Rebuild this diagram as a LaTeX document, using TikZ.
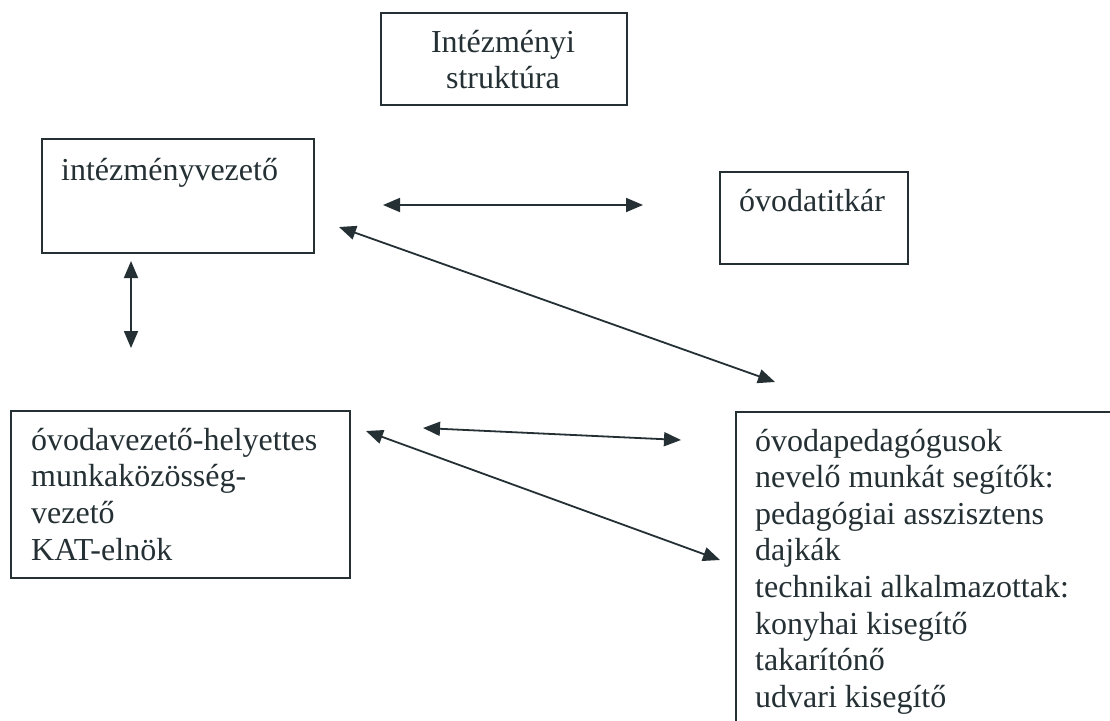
\documentclass[tikz,border=0pt]{standalone}
\usepackage{fontspec}
\setmainfont{Liberation Serif}
\usetikzlibrary{arrows.meta}
\definecolor{ink}{RGB}{36,48,52}
\begin{document}
\begin{tikzpicture}[x=1pt,y=-1pt,
  boxnode/.style={draw=ink,line width=1.8pt,inner sep=0pt,anchor=north west},
  txt/.style={text=ink,inner sep=0pt,anchor=base west,font=\fontsize{32}{36.8}\selectfont},
  link/.style={draw=ink,line width=1.8pt,{Triangle[length=17pt,width=14pt]}-{Triangle[length=17pt,width=14pt]}}]
\useasboundingbox (0,0) rectangle (1110,720);
\clip (0,0) rectangle (1110,720);
\fill[white] (0,0) rectangle (1110,720);
% boxes
\node[boxnode,minimum width=246pt,minimum height=92pt] (intz) at (380,12) {};
\node[boxnode,minimum width=272pt,minimum height=114pt] (vez) at (41,138) {};
\node[boxnode,minimum width=188pt,minimum height=92pt] (tit) at (719,171) {};
\node[boxnode,minimum width=339pt,minimum height=167pt] (hely) at (10,410) {};
\node[boxnode,minimum width=420pt,minimum height=360pt] (ped) at (735,411) {};
% texts
\node[txt,anchor=base] (intz1) at (503,52) {Intézményi};
\node[txt,anchor=base] (intz2) at (503,88) {struktúra};
\node[txt] (vezt) at (61,180) {intézményvezető};
\node[txt] (titt) at (739,211) {óvodatitkár};
\foreach \t [count=\i] in {óvodavezető-helyettes,munkaközösség-,vezető,KAT-elnök}
  \node[txt] (h\i) at (31,{450+36.7*(\i-1)}) {\t};
\foreach \t [count=\i] in {óvodapedagógusok,nevelő munkát segítők:,pedagógiai asszisztens,dajkák,technikai alkalmazottak:,konyhai kisegítő,takarítónő,udvari kisegítő}
  \node[txt] (p\i) at (755,{451+36.6*(\i-1)}) {\t};
% connector ends
\coordinate (a1) at (383,205);
\coordinate (b1) at (643,205);
\coordinate (a2) at (339,227);
\coordinate (b2) at (775,382);
\coordinate (a3) at (131,261);
\coordinate (b3) at (131,348);
\coordinate (a4) at (423,428);
\coordinate (b4) at (681,440);
\coordinate (a5) at (366,431);
\coordinate (b5) at (720,560);
\draw[link] (a1) -- (b1);
\draw[link] (a2) -- (b2);
\draw[link] (a3) -- (b3);
\draw[link] (a4) -- (b4);
\draw[link] (a5) -- (b5);
\end{tikzpicture}
\end{document}
